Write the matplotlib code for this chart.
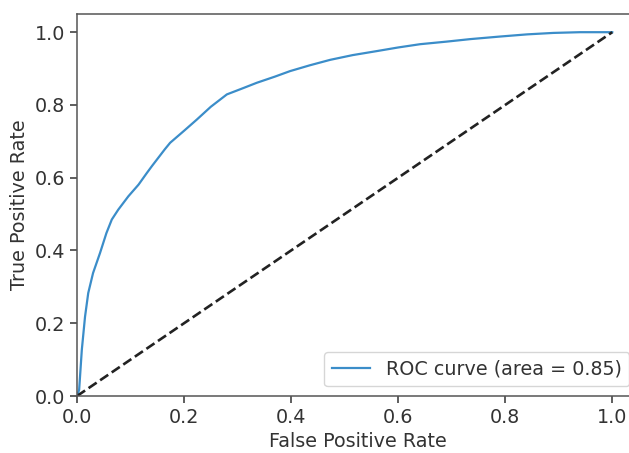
# Curva ROC
import matplotlib.pyplot as plt

# DATOS
fpr = [0.0, 0.002, 0.004, 0.009, 0.015, 0.021, 0.030, 0.043, 0.055,
       0.065, 0.077, 0.096, 0.115, 0.130, 0.140, 0.164, 0.174, 0.200,
       0.224, 0.250, 0.280, 0.310, 0.336, 0.370, 0.398, 0.435, 0.473,
       0.515, 0.560, 0.600, 0.641, 0.690, 0.735, 0.790, 0.841, 0.890,
       0.940, 1.0]
tpr = [0.0, 0.008, 0.017, 0.127, 0.218, 0.283, 0.338, 0.393, 0.448,
       0.485, 0.512, 0.549, 0.581, 0.612, 0.632, 0.678, 0.696, 0.729,
       0.760, 0.795, 0.829, 0.846, 0.861, 0.878, 0.893, 0.909, 0.924,
       0.937, 0.948, 0.958, 0.967, 0.974, 0.981, 0.988, 0.994, 0.998,
       1.0, 1.0]
area = 0.85
diag = [0.0, 1.0]

# GRAFICA
s = 1.38
plt.rcParams['font.family'] = 'DejaVu Sans'
plt.rcParams['font.size'] = 10*s
plt.rcParams['text.color'] = '#333333'
plt.rcParams['axes.labelcolor'] = '#333333'
plt.rcParams['xtick.color'] = '#333333'
plt.rcParams['ytick.color'] = '#333333'
plt.rcParams['xtick.major.size'] = 3.5*s
plt.rcParams['ytick.major.size'] = 3.5*s
plt.rcParams['xtick.major.width'] = 0.8*s
plt.rcParams['ytick.major.width'] = 0.8*s
plt.rcParams['axes.linewidth'] = 0.8*s

fig = plt.figure(figsize=(6.29, 4.53), dpi=100)
# el eje derecho queda fuera de la imagen, como en la captura
ax = fig.add_axes([77/629, 57/453, 562/629, 382/453])

ax.plot(fpr, tpr, color='#3b8dc9', lw=1.6,
        label='ROC curve (area = %0.2f)' % area)
ax.plot(diag, diag, '--', lw=1.9, color='#222222')
ax.set_xlim([0.0, 1.05])
ax.set_ylim([0.0, 1.05])
ax.set_xticks([0.0, 0.2, 0.4, 0.6, 0.8, 1.0])
ax.set_yticks([0.0, 0.2, 0.4, 0.6, 0.8, 1.0])
for sp in ax.spines.values():
    sp.set_color('#555555')
ax.set_xlabel('False Positive Rate')
ax.set_ylabel('True Positive Rate')
ax.legend(loc='lower right', handlelength=2.0)

fig.savefig('out.png', dpi=100)
